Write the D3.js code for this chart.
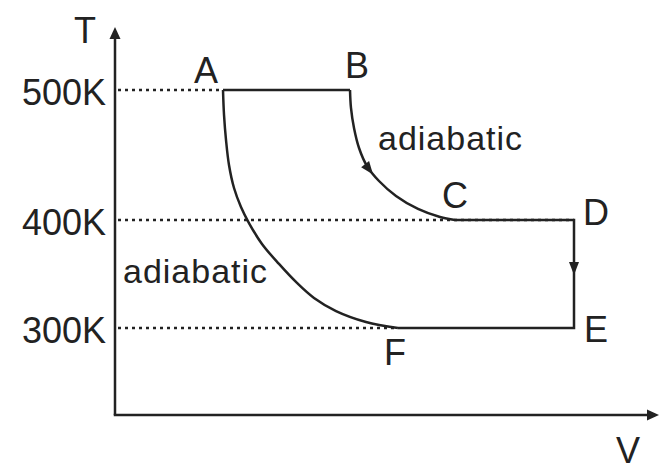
<!DOCTYPE html>
<html>
<head>
<meta charset="utf-8">
<script src="https://cdn.jsdelivr.net/npm/d3@7"></script>
<style>
  html, body { margin: 0; padding: 0; background: #fff; }
  text { font-family: "Liberation Sans", Arial, sans-serif; fill: #222; }
</style>
</head>
<body>
<div id="chart"></div>
<script>
// state points of the cycle
const stateLabels = ["A", "B", "C", "D", "E", "F"];
const stateV = [2.0, 4.352, 6.296, 8.5, 8.5, 5.24];
const stateT = [500, 500, 400, 400, 300, 300];

// temperature levels marked on the T axis
const tempTicks = [300, 400, 500];
const tempLabels = ["300K", "400K", "500K"];

// adiabat B -> C
const adiabatBC_V = [4.352, 4.370, 4.426, 4.519, 4.667, 4.889, 5.204, 5.611, 6.019, 6.296];
const adiabatBC_T = [500, 486.2, 470.8, 455.4, 441.5, 430, 418.5, 408.5, 402.3, 400];

// adiabat A -> F
const adiabatAF_V = [2.0, 2.019, 2.056, 2.111, 2.204, 2.333, 2.481, 2.722, 3.037,
                     3.370, 3.685, 4.093, 4.648, 5.24];
const adiabatAF_T = [500, 480.8, 461.5, 442.3, 424.6, 410, 397.2, 377.8, 359.3,
                     341.7, 327.8, 315.7, 305.6, 300];

const W = 660, H = 467;

const svg = d3.select("#chart")
  .append("svg")
  .attr("width", W)
  .attr("height", H);

const x = d3.scaleLinear().domain([0, 10]).range([115, 655]);
// schematic T axis: levels are not evenly spaced in the drawing
const y = d3.scaleLinear()
  .domain([200, 300, 400, 500, 560])
  .range([415, 328, 220, 90, 27]);

const ink = "#222";

function arrowHead(tipX, tipY, angle, len, half) {
  // angle in radians, direction the arrow points to
  const bx = tipX - len * Math.cos(angle), by = tipY - len * Math.sin(angle);
  const px = -Math.sin(angle) * half, py = Math.cos(angle) * half;
  svg.append("path")
    .attr("d", `M${tipX},${tipY}L${bx + px},${by + py}L${bx - px},${by - py}Z`)
    .attr("fill", ink);
}

// =========================
// AXES
// =========================
svg.append("line")
  .attr("x1", x(0)).attr("y1", y(200))
  .attr("x2", x(0)).attr("y2", y(560) + 4)
  .attr("stroke", ink).attr("stroke-width", 2.5);
arrowHead(x(0), y(560), -Math.PI / 2, 12, 5.5);

svg.append("line")
  .attr("x1", x(0) - 1.25).attr("y1", y(200))
  .attr("x2", x(10)).attr("y2", y(200))
  .attr("stroke", ink).attr("stroke-width", 2.5);
arrowHead(x(10) + 4, y(200), 0, 12, 5.5);

svg.append("text")
  .attr("x", x(0) - 30).attr("y", 43)
  .attr("text-anchor", "middle")
  .style("font-size", "36px")
  .text("T");

svg.append("text")
  .attr("x", 628).attr("y", 463)
  .attr("text-anchor", "middle")
  .style("font-size", "36px")
  .text("V");

// =========================
// DOTTED GUIDES + T LABELS
// =========================
const guideEnd = { 500: stateV[0], 400: stateV[3], 300: stateV[5] };

svg.selectAll(".guide")
  .data(tempTicks)
  .join("line")
  .attr("class", "guide")
  .attr("x1", x(0) + 3)
  .attr("x2", d => x(guideEnd[d]))
  .attr("y1", d => y(d))
  .attr("y2", d => y(d))
  .attr("stroke", ink)
  .attr("stroke-width", 2.5)
  .attr("stroke-dasharray", "3,4");

svg.selectAll(".tlabel")
  .data(tempTicks)
  .join("text")
  .attr("class", "tlabel")
  .attr("x", 106)
  .attr("y", d => y(d) + 15)
  .attr("text-anchor", "end")
  .style("font-size", "36px")
  .text((d, i) => tempLabels[i]);

// =========================
// CYCLE
// =========================
const pt = i => [x(stateV[i]), y(stateT[i])];
const straight = d3.line();
const smooth = d3.line().curve(d3.curveCatmullRom.alpha(0.5));

svg.append("path")
  .attr("d", straight([pt(0), pt(1)]))
  .attr("fill", "none").attr("stroke", ink).attr("stroke-width", 2.5);

svg.append("path")
  .attr("d", straight([pt(2), pt(3), pt(4), pt(5)]))
  .attr("fill", "none").attr("stroke", ink).attr("stroke-width", 2.5);

const bc = svg.append("path")
  .attr("d", smooth(adiabatBC_V.map((v, i) => [x(v), y(adiabatBC_T[i])])))
  .attr("fill", "none").attr("stroke", ink).attr("stroke-width", 2.5);

svg.append("path")
  .attr("d", smooth(adiabatAF_V.map((v, i) => [x(v), y(adiabatAF_T[i])])))
  .attr("fill", "none").attr("stroke", ink).attr("stroke-width", 2.5);

// arrow along B -> C, near T = 435
{
  const node = bc.node(), L = node.getTotalLength();
  const target = y(435);
  let best = 0, bestD = Infinity;
  for (let s = 0; s <= L; s += 0.5) {
    const p = node.getPointAtLength(s);
    const dd = Math.abs(p.y - target);
    if (dd < bestD) { bestD = dd; best = s; }
  }
  const p = node.getPointAtLength(best), q = node.getPointAtLength(best - 6);
  arrowHead(p.x, p.y, Math.atan2(p.y - q.y, p.x - q.x), 13, 5);
}

// arrow along D -> E
arrowHead(x(stateV[3]), y(349), Math.PI / 2, 13, 5);

// =========================
// STATE LABELS
// =========================
const labelOffset = {
  A: [-17, -7], B: [7, -12], C: [0, -12],
  D: [22, 5], E: [22, 14], F: [-3, 37]
};

svg.selectAll(".slabel")
  .data(stateLabels)
  .join("text")
  .attr("class", "slabel")
  .attr("x", (d, i) => x(stateV[i]) + labelOffset[d][0])
  .attr("y", (d, i) => y(stateT[i]) + labelOffset[d][1])
  .attr("text-anchor", "middle")
  .style("font-size", "36px")
  .text(d => d);

svg.append("text")
  .attr("x", 378).attr("y", 150)
  .style("font-size", "34px")
  .style("letter-spacing", "1px")
  .text("adiabatic");

svg.append("text")
  .attr("x", 123).attr("y", 283)
  .style("font-size", "34px")
  .style("letter-spacing", "1px")
  .text("adiabatic");
</script>
</body>
</html>
